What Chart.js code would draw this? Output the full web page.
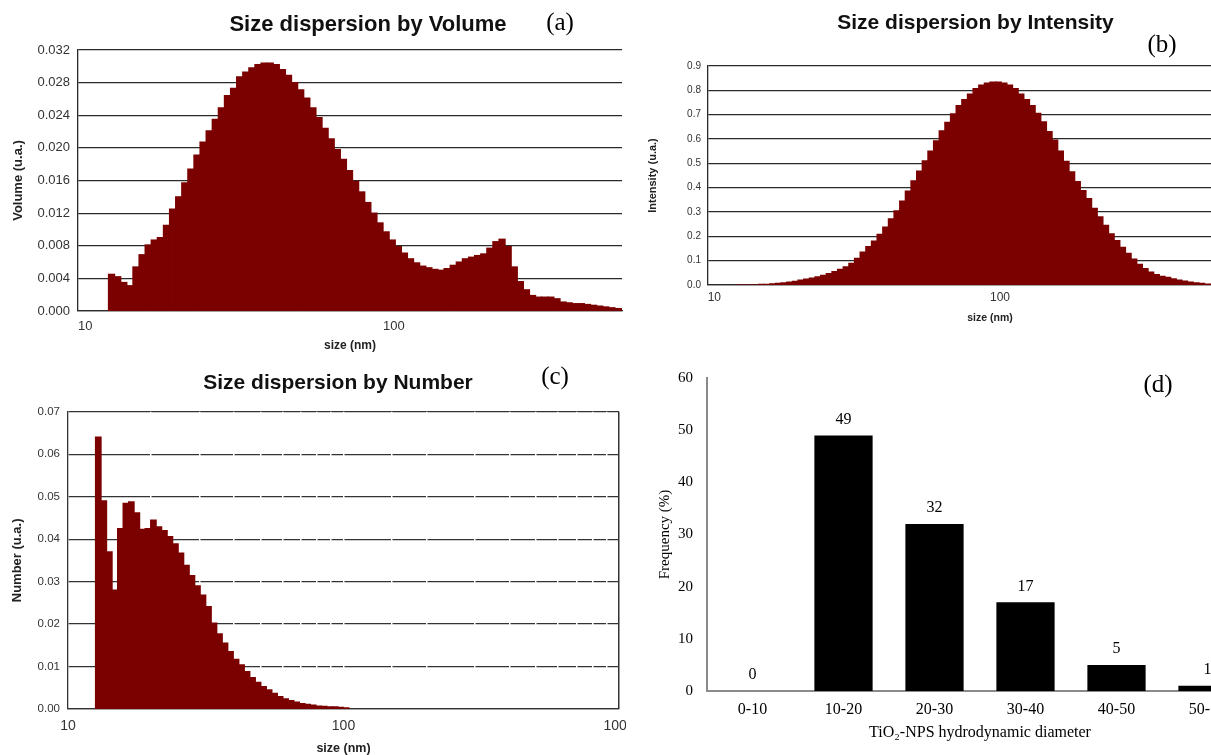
<!DOCTYPE html>
<html>
<head>
<meta charset="utf-8">
<script src="https://cdn.jsdelivr.net/npm/chart.js@4.4.1/dist/chart.umd.min.js"></script>
<style>
  html, body { margin: 0; padding: 0; background: #fff; overflow: hidden; width: 1211px; height: 755px; }
  canvas { position: absolute; }
</style>
</head>
<body>
<canvas id="volChart" width="630" height="355" style="left:0;top:0"></canvas>
<canvas id="intChart" width="650" height="335" style="left:630px;top:0"></canvas>
<canvas id="numChart" width="626" height="400" style="left:0;top:355px"></canvas>
<canvas id="freqChart" width="630" height="400" style="left:630px;top:355px"></canvas>
<script>
// clases de tamaño (centro de cada clase, nm), comunes a los tres graficos DLS
const sizeClasses = [12.88, 13.49, 14.13, 14.79, 15.49, 16.22, 16.98, 17.78, 18.62, 19.50,
  20.42, 21.38, 22.39, 23.44, 24.55, 25.70, 26.92, 28.18, 29.51, 30.90,
  32.36, 33.88, 35.48, 37.15, 38.90, 40.74, 42.66, 44.67, 46.77, 48.98,
  51.29, 53.70, 56.23, 58.88, 61.66, 64.57, 67.61, 70.79, 74.13, 77.62,
  81.28, 85.11, 89.13, 93.33, 97.72, 102.3, 107.2, 112.2, 117.5, 123.0,
  128.8, 134.9, 141.3, 147.9, 154.9, 162.2, 169.8, 177.8, 186.2, 195.0,
  204.2, 213.8, 223.9, 234.4, 245.5, 257.0, 269.2, 281.8, 295.1, 309.0,
  323.6, 338.8, 354.8, 371.5, 389.0, 407.4, 426.6, 446.7, 467.7, 489.8,
  512.9, 537.0, 562.3, 588.8, 616.6, 645.7];

// (a) volumen
const volume = [0.0045, 0.0042, 0.0035, 0.0031, 0.0054, 0.0069, 0.0081, 0.0087, 0.0090, 0.0105,
  0.0125, 0.0140, 0.0157, 0.0174, 0.0191, 0.0207, 0.0221, 0.0235, 0.0249, 0.0264,
  0.0273, 0.0287, 0.0293, 0.0298, 0.0302, 0.0304, 0.0304, 0.0302, 0.0296, 0.0289,
  0.0280, 0.0271, 0.0261, 0.0249, 0.0237, 0.0224, 0.0211, 0.0198, 0.0186, 0.0172,
  0.0159, 0.0146, 0.0133, 0.0120, 0.0108, 0.0097, 0.0087, 0.0079, 0.0071, 0.0064,
  0.0059, 0.0055, 0.0053, 0.0051, 0.0050, 0.0052, 0.0056, 0.0060, 0.0064, 0.0066,
  0.0068, 0.0070, 0.0077, 0.0085, 0.0088, 0.0079, 0.0054, 0.0036, 0.0026, 0.0019,
  0.0017, 0.0017, 0.0017, 0.0015, 0.0011, 0.0010, 0.0009, 0.0009, 0.0008, 0.0007,
  0.0006, 0.0005, 0.0004, 0.0003, 0.0003];

// (b) intensidad
const intensity = [0, 0, 0, 0, 0.002, 0.003, 0.005, 0.007, 0.009, 0.012,
  0.015, 0.020, 0.024, 0.028, 0.034, 0.040, 0.047, 0.055, 0.064, 0.075,
  0.089, 0.110, 0.135, 0.158, 0.180, 0.208, 0.238, 0.272, 0.305, 0.345,
  0.386, 0.428, 0.468, 0.510, 0.550, 0.592, 0.633, 0.668, 0.703, 0.737,
  0.762, 0.785, 0.807, 0.821, 0.830, 0.834, 0.834, 0.830, 0.821, 0.807,
  0.785, 0.762, 0.737, 0.705, 0.670, 0.630, 0.595, 0.550, 0.508, 0.465,
  0.425, 0.388, 0.355, 0.315, 0.280, 0.245, 0.210, 0.182, 0.155, 0.130,
  0.106, 0.085, 0.067, 0.053, 0.043, 0.036, 0.031, 0.025, 0.020, 0.016,
  0.012, 0.009, 0.007, 0.004, 0.003, 0.002];

// (c) numero
const number = [0.0640, 0.0490, 0.0370, 0.0280, 0.0425, 0.0484, 0.0488, 0.0462, 0.0423, 0.0425,
  0.0445, 0.0429, 0.0420, 0.0406, 0.0389, 0.0367, 0.0338, 0.0314, 0.0290, 0.0268,
  0.0241, 0.0202, 0.0177, 0.0155, 0.0135, 0.0117, 0.0104, 0.0088, 0.0074, 0.0063,
  0.0053, 0.0045, 0.0037, 0.0029, 0.0024, 0.0020, 0.0016, 0.0013, 0.0011, 0.0009,
  0.0007, 0.0006, 0.0005, 0.0005, 0.0004, 0.0003];

// (d) frecuencia por rango de diametro
const diameterBins = ['0-10', '10-20', '20-30', '30-40', '40-50', '50-60'];
const frequency = [0, 49, 32, 17, 5, 1];

const MAROON = '#7b0000';
const LINE = '#2a2a2a';
const SANS = "'Liberation Sans', Arial, sans-serif";
const SERIF = "'Liberation Serif', 'Times New Roman', 'DejaVu Serif', serif";

// textos libres (titulos y letras de panel)
const panelText = {
  id: 'panelText',
  afterDraw(chart, args, opts) {
    const ctx = chart.ctx;
    (opts.items || []).forEach(it => {
      ctx.save();
      ctx.font = it.font;
      ctx.fillStyle = it.color || '#111';
      ctx.textAlign = 'center';
      ctx.textBaseline = 'middle';
      ctx.fillText(it.text, it.x, it.y);
      ctx.restore();
    });
  }
};

// etiquetas de valor encima de cada barra
const barValues = {
  id: 'barValues',
  afterDatasetsDraw(chart, args, opts) {
    const ctx = chart.ctx;
    const meta = chart.getDatasetMeta(0);
    const data = chart.data.datasets[0].data;
    ctx.save();
    ctx.font = opts.font;
    ctx.fillStyle = '#000';
    ctx.textAlign = 'center';
    ctx.textBaseline = 'middle';
    meta.data.forEach((bar, i) => ctx.fillText(String(data[i]), bar.x, bar.y - opts.offset));
    ctx.restore();
  }
};

const isDecade = v => Math.abs(Math.log10(v) - Math.round(Math.log10(v))) < 1e-9;

const sizeChart = (canvasid, values, cfg) => new Chart(document.getElementById(canvasid), {
  type: 'bar',
  data: {
    labels: sizeClasses,
    datasets: [{
      data: values,
      backgroundColor: MAROON,
      borderWidth: 0,
      barThickness: 'flex',
      categoryPercentage: 1,
      barPercentage: 1,
      inflateAmount: 0.6,
      clip: 0
    }]
  },
  options: {
    responsive: false,
    animation: false,
    devicePixelRatio: 1,
    layout: { padding: cfg.padding },
    plugins: {
      legend: { display: false },
      tooltip: { enabled: false },
      panelText: { items: cfg.texts }
    },
    scales: { x: cfg.x, y: cfg.y }
  },
  plugins: [panelText]
});

// (a)
sizeChart('volChart', volume, {
  padding: { left: 0, top: 50, right: 8, bottom: 0 },
  texts: [
    { text: 'Size dispersion by Volume', x: 368, y: 25, font: `bold 22px ${SANS}` },
    { text: '(a)', x: 560, y: 23, font: `25px ${SERIF}`, color: '#000' }
  ],
  x: {
    type: 'logarithmic', min: 10, max: 607, offset: false,
    grid: { display: false, drawTicks: false },
    border: { color: LINE, width: 1.3 },
    ticks: { align: 'start', autoSkip: false, maxRotation: 0, padding: 8, color: '#333', font: { family: SANS, size: 13 }, callback: v => String(v) },
    afterBuildTicks: s => { s.ticks = [10, 100].map(v => ({ value: v })); },
    afterFit: s => { s.height = 44; s.paddingLeft = 0; s.paddingRight = 0; },
    title: { display: true, text: 'size (nm)', color: '#222', font: { family: SANS, size: 12, weight: 'bold' }, padding: { top: 0, bottom: 1.8 } }
  },
  y: {
    min: 0, max: 0.032,
    ticks: { stepSize: 0.004, padding: 8, color: '#333', font: { family: SANS, size: 13 }, callback: v => v.toFixed(3) },
    grid: { color: LINE, lineWidth: 1.2, drawTicks: false, z: -2 },
    border: { color: LINE, width: 1.3 },
    afterFit: s => { s.width = 78; },
    title: { display: true, text: 'Volume (u.a.)', color: '#222', font: { family: SANS, size: 13, weight: 'bold' }, padding: { top: 10.2, bottom: 0 } }
  }
});

// (b)
sizeChart('intChart', intensity, {
  padding: { left: 0, top: 66, right: 7.7, bottom: 0 },
  texts: [
    { text: 'Size dispersion by Intensity', x: 345.5, y: 23, font: `bold 21px ${SANS}` },
    { text: '(b)', x: 532, y: 45, font: `25px ${SERIF}`, color: '#000' }
  ],
  x: {
    type: 'logarithmic', min: 10, max: 1000, offset: false,
    grid: { display: false, drawTicks: false },
    border: { color: LINE, width: 1.3 },
    ticks: { align: 'start', autoSkip: false, maxRotation: 0, padding: 5.8, color: '#333', font: { family: SANS, size: 12 }, callback: v => String(v) },
    afterBuildTicks: s => { s.ticks = [10, 100].map(v => ({ value: v })); },
    afterFit: s => { s.height = 50; s.paddingLeft = 0; s.paddingRight = 0; },
    title: { display: true, text: 'size (nm)', color: '#222', font: { family: SANS, size: 10.5, weight: 'bold' }, padding: { top: 0, bottom: 10.7 } }
  },
  y: {
    min: 0, max: 0.9,
    ticks: { stepSize: 0.1, padding: 6.7, color: '#333', font: { family: SANS, size: 10 }, callback: v => v.toFixed(1) },
    grid: { color: LINE, lineWidth: 1.2, drawTicks: false, z: -2 },
    border: { color: LINE, width: 1.3 },
    afterFit: s => { s.width = 77.7; },
    title: { display: true, text: 'Intensity (u.a.)', color: '#222', font: { family: SANS, size: 11, weight: 'bold' }, padding: { top: 16.4, bottom: 0 } }
  }
});

// (c)
sizeChart('numChart', number, {
  padding: { left: 0, top: 56.7, right: 7, bottom: 0 },
  texts: [
    { text: 'Size dispersion by Number', x: 338, y: 28, font: `bold 21px ${SANS}` },
    { text: '(c)', x: 555, y: 22, font: `25px ${SERIF}`, color: '#000' }
  ],
  x: {
    type: 'logarithmic', min: 10, max: 1000, offset: false,
    grid: { offset: false, drawTicks: false, z: -1, lineWidth: 1.5, color: c => (c.tick && Math.abs(c.tick.value - 1000) < 1e-6) ? '#333' : '#ffffff' },
    border: { color: '#333', width: 1.3 },
    ticks: { autoSkip: false, maxRotation: 0, padding: 9, color: '#333', font: { family: SANS, size: 14 }, callback: v => isDecade(v) ? String(v) : '' },
    afterFit: s => { s.height = 46; s.paddingLeft = 0; s.paddingRight = 0; },
    title: { display: true, text: 'size (nm)', color: '#222', font: { family: SANS, size: 12.5, weight: 'bold', lineHeight: 1 }, padding: { top: 0, bottom: 0 } }
  },
  y: {
    min: 0, max: 0.07,
    ticks: { stepSize: 0.01, padding: 8, color: '#333', font: { family: SANS, size: 11.5 }, callback: v => v.toFixed(2) },
    grid: { color: '#333', lineWidth: 1.2, drawTicks: false, z: -2 },
    border: { color: '#333', width: 1.3 },
    afterFit: s => { s.width = 68; },
    title: { display: true, text: 'Number (u.a.)', color: '#222', font: { family: SANS, size: 13, weight: 'bold' }, padding: { top: 9.2, bottom: 0 } }
  }
});

// (d)
new Chart(document.getElementById('freqChart'), {
  type: 'bar',
  data: {
    labels: diameterBins,
    datasets: [{ data: frequency, backgroundColor: '#000', borderWidth: 0, barPercentage: 0.64, categoryPercentage: 1 }]
  },
  options: {
    responsive: false,
    animation: false,
    devicePixelRatio: 1,
    layout: { padding: { left: 0, top: 21.7, right: 7, bottom: 0 } },
    plugins: {
      legend: { display: false },
      tooltip: { enabled: false },
      barValues: { font: `16px ${SERIF}`, offset: 16 },
      panelText: { items: [{ text: '(d)', x: 528, y: 30, font: `25px ${SERIF}`, color: '#000' }] }
    },
    scales: {
      x: {
        grid: { display: false, drawTicks: false },
        border: { color: '#8a8a8a', width: 2 },
        ticks: { padding: 9.4, color: '#000', font: { family: SERIF, size: 16 } },
        afterFit: s => { s.height = 64; s.paddingLeft = 0; s.paddingRight = 0; },
        title: { display: true, text: 'TiO₂-NPS hydrodynamic diameter', color: '#000', font: { family: SERIF, size: 16 }, padding: { top: 0, bottom: 12.4 } }
      },
      y: {
        min: 0, max: 60,
        ticks: { stepSize: 10, padding: 14, color: '#000', font: { family: SERIF, size: 15 } },
        grid: { display: false, drawTicks: false },
        border: { color: '#8a8a8a', width: 2 },
        afterFit: s => { s.width = 77; },
        title: { display: true, text: 'Frequency (%)', color: '#000', font: { family: SERIF, size: 15 }, padding: { top: 26, bottom: 0 } }
      }
    }
  },
  plugins: [barValues, panelText]
});
</script>
</body>
</html>
